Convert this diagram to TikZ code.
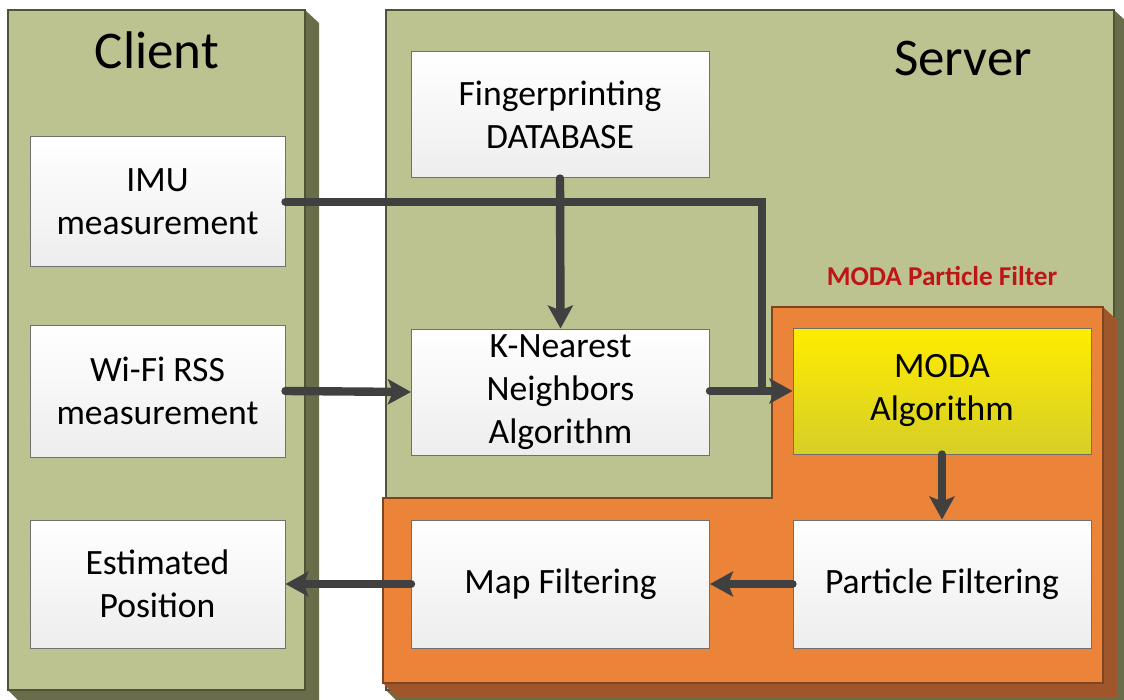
\documentclass[tikz,border=0pt]{standalone}
\usepackage{fontspec}
\setmainfont{Carlito}
\usetikzlibrary{arrows.meta}
\definecolor{panelgreen}{RGB}{189,194,145}
\definecolor{paneldark}{RGB}{106,109,74}
\definecolor{paneledge}{RGB}{80,83,55}
\definecolor{filterorange}{RGB}{235,131,57}
\definecolor{filterdark}{RGB}{158,86,42}
\definecolor{flowgray}{RGB}{64,64,64}
\definecolor{boxedge}{RGB}{112,112,112}
\definecolor{modared}{RGB}{190,22,22}
\begin{document}
\begin{tikzpicture}[x=0.5pt,y=-0.5pt,
    block/.style={draw=boxedge,line width=0.5pt,top color=white,bottom color=black!7,
        align=center,inner sep=0pt,font=\fontsize{17.8}{21.5}\selectfont},
    smallblock/.style={block,minimum width=127.5pt,minimum height=65pt},
    wideblock/.style={block,minimum width=149pt,minimum height=63pt},
    title/.style={font=\fontsize{26.5}{30}\selectfont},
    flow/.style={draw=flowgray,line width=4.2pt,line cap=round},
    arr/.style={flow,-{Stealth[length=11.5pt,width=12.5pt,inset=2.5pt]}}]
    \useasboundingbox (0,0) rectangle (1124,700);
    \clip (0,0) rectangle (1124,700);
    % client panel
    \fill[paneldark] (305,10)--(319,23)--(319,704)--(22,704)--(8,690)--(305,690)--cycle;
    \filldraw[fill=panelgreen,draw=paneledge,line width=0.6pt] (8,10) rectangle (305,690);
    % server panel
    \fill[paneldark] (1114,10)--(1128,23)--(1128,704)--(400,704)--(386,690)--(1114,690)--cycle;
    \filldraw[fill=panelgreen,draw=paneledge,line width=0.6pt] (386,10) rectangle (1114,690);
    % particle filter part
    \fill[filterdark] (1103,307)--(1117,320)--(1117,697)--(397,697)--(383,683)--(1103,683)--cycle;
    \filldraw[fill=filterorange,draw=filterdark!80!black,line width=0.6pt]
        (772,307)--(1103,307)--(1103,683)--(383,683)--(383,498)--(772,498)--cycle;
    \node[title] (client) at (157,50) {Client};
    \node[title] (server) at (963,58) {Server};
    \node[font=\fontsize{13.6}{15}\selectfont\bfseries,text=modared] (pflabel) at (942,276) {MODA Particle Filter};
    % boxes
    \node[smallblock] (imu) at (157.5,202) {IMU\\measurement};
    \node[smallblock,minimum height=66pt] (wifi) at (157.5,391) {Wi-Fi RSS\\measurement};
    \node[smallblock,minimum height=64pt] (est) at (157.5,584) {Estimated\\Position};
    \node[wideblock] (db) at (560,115) {Fingerprinting\\DATABASE};
    \node[wideblock] (knn) at (560.5,392) {K-Nearest\\Neighbors\\Algorithm};
    \node[wideblock,minimum height=64pt] (map) at (560.5,584) {Map Filtering};
    \node[wideblock,top color={rgb,255:red,255;green,236;blue,0},bottom color={rgb,255:red,214;green,206;blue,40}] (moda) at (942,391) {MODA\\Algorithm};
    \node[wideblock,minimum height=64pt] (part) at (942,584) {Particle Filtering};
    \coordinate (join) at (762,391);
    % arrows
    \draw[flow] (imu.east) -| (join);
    \draw[arr] (db.south) -- (knn.north);
    \draw[arr] (wifi.east) -- (knn.west);
    \draw[arr] (knn.east |- moda.west) -- (moda.west);
    \draw[arr] (moda.south) -- (part.north);
    \draw[arr] (part.west) -- (map.east);
    \draw[arr] (map.west) -- (est.east);
\end{tikzpicture}
\end{document}
